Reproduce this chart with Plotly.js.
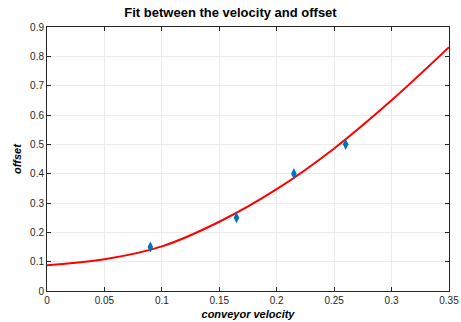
<!DOCTYPE html>
<html><head><meta charset="utf-8">
<script src="https://cdn.plot.ly/plotly-3.0.1.min.js"></script>
<style>html,body{margin:0;padding:0;background:#fff}</style>
</head><body><div id="chart" style="width:461px;height:322px"></div>
<script>
const dataX = [0.09, 0.165, 0.215, 0.26];
const dataY = [0.15, 0.25, 0.40, 0.50];
const fitX = [0, 0.05, 0.1, 0.15, 0.2, 0.25, 0.3, 0.35];
const fitY = [0.088, 0.108, 0.152, 0.236, 0.347, 0.486, 0.650, 0.831];
const xTicks = [0, 0.05, 0.1, 0.15, 0.2, 0.25, 0.3, 0.35];
const xTickLabels = ['0', '0.05', '0.1', '0.15', '0.2', '0.25', '0.3', '0.35'];
const yTicks = [0, 0.1, 0.2, 0.3, 0.4, 0.5, 0.6, 0.7, 0.8, 0.9];
const yTickLabels = ['0', '0.1', '0.2', '0.3', '0.4', '0.5', '0.6', '0.7', '0.8', '0.9'];

const axisCommon = {
  showline: true, mirror: 'ticks', linecolor: '#262626', linewidth: 1,
  ticks: 'inside', ticklen: 4, tickcolor: '#262626',
  showgrid: true, gridcolor: '#ebebeb', gridwidth: 1, zeroline: false,
  tickfont: {family: 'Liberation Sans, Arial, sans-serif', size: 10, color: '#262626'},
  tickmode: 'array'
};
const layout = {
  width: 461, height: 322,
  margin: {l: 47, r: 12, t: 27, b: 31},
  paper_bgcolor: '#fff', plot_bgcolor: '#fff',
  showlegend: false,
  title: {text: 'Fit between the velocity and offset', x: 0.5, xanchor: 'center', y: 0.962, yanchor: 'middle',
    font: {family: 'Liberation Sans, Arial, sans-serif', size: 13, color: '#000', weight: 'bold'}},
  xaxis: Object.assign({}, axisCommon, {
    range: [0, 0.35], tickvals: xTicks, ticktext: xTickLabels,
    title: {text: 'conveyor velocity', standoff: 5,
      font: {family: 'Liberation Sans, Arial, sans-serif', size: 11, color: '#000', weight: 'bold', style: 'italic'}}
  }),
  yaxis: Object.assign({}, axisCommon, {
    range: [0, 0.9], tickvals: yTicks, ticktext: yTickLabels,
    title: {text: 'offset', standoff: 6,
      font: {family: 'Liberation Sans, Arial, sans-serif', size: 11, color: '#000', weight: 'bold', style: 'italic'}}
  })
};
const traces = [
  {x: fitX, y: fitY, mode: 'lines', type: 'scatter', line: {color: '#ff0000', width: 2, shape: 'spline', smoothing: 1}, hoverinfo: 'skip'},
  {x: dataX, y: dataY, mode: 'markers', type: 'scatter', marker: {symbol: 'diamond-tall', size: 8, color: '#0072BD'}}
];
Plotly.newPlot('chart', traces, layout, {displayModeBar: false, staticPlot: true});
</script></body></html>
